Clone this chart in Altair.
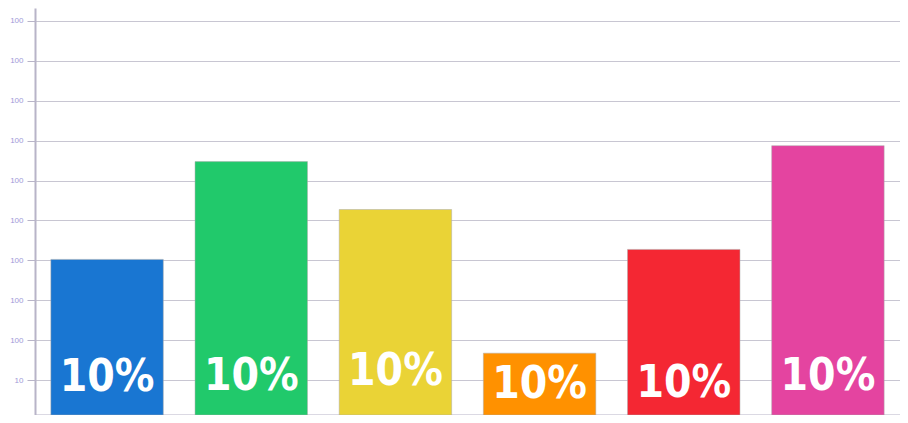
import pandas as pd
import altair as alt

categories = ["A", "B", "C", "D", "E", "F"]
values = [3.9, 6.35, 5.15, 1.55, 4.15, 6.75]
colors = ["#1976d2", "#21c96b", "#ead336", "#ff9100", "#f42733", "#e444a0"]
labels = ["10%", "10%", "10%", "10%", "10%", "10%"]
label_y = [0.92, 0.95, 1.07, 0.75, 0.78, 0.95]
tick_values = [0.875 + k for k in range(10)]

df = pd.DataFrame({"cat": categories, "v": values, "c": colors,
                   "lab": labels, "ly": label_y})

x = alt.X("cat:N", sort=categories, title=None,
          scale=alt.Scale(paddingInner=0.22, paddingOuter=0.11),
          axis=alt.Axis(labels=False, ticks=False, domainColor="#b8b4c8", domainWidth=2))
yscale = alt.Scale(domain=[0, 10.2], nice=False)

bars = alt.Chart(df).mark_bar(stroke="#aaaaaa", strokeWidth=0.5).encode(
    x=x,
    y=alt.Y("v:Q", title=None, scale=yscale,
            axis=alt.Axis(values=tick_values, labelExpr="datum.index == 0 ? '10' : '100'",
                          labelColor="#a09ad8", labelFontSize=8, tickColor="#b8b4c8",
                          tickSize=8, domainColor="#b8b4c8", domainWidth=2,
                          gridColor="#c8c6d2", labelPadding=4)),
    color=alt.Color("c:N", scale=None),
)

text = alt.Chart(df).mark_text(color="white", fontSize=44, fontWeight="bold",
                               font="DejaVu Sans Condensed").encode(
    x=alt.X("cat:N", sort=categories),
    y=alt.Y("ly:Q", scale=yscale),
    text="lab:N",
)

chart = (bars + text).properties(
    width=865, height=407,
    padding={"left": 27, "top": 0, "right": 0, "bottom": 0},
    autosize=alt.AutoSizeParams(type="none"),
).configure_view(stroke=None)

chart.save("out.html", embed_options={"renderer": "svg", "actions": False})
